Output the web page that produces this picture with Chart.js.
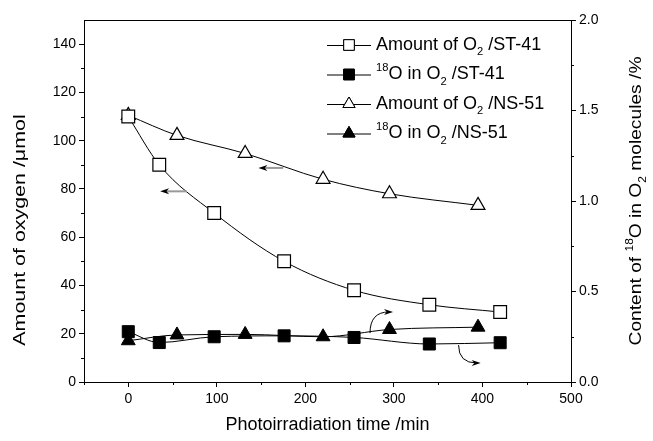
<!DOCTYPE html>
<html>
<head>
<meta charset="utf-8">
<script src="https://cdn.jsdelivr.net/npm/chart.js@4.4.1/dist/chart.umd.min.js"></script>
<style>
    html, body { margin: 0; padding: 0; background: #fff; }
</style>
</head>
<body>
<canvas id="chartContainer" width="653" height="441"></canvas>
<script>
// Data
const timeST41 = [0, 35, 97, 176, 255, 340, 420];
const amountST41 = [110, 90, 70, 50, 38, 32, 29];
const o18ST41 = [0.278, 0.218, 0.25, 0.255, 0.246, 0.21, 0.217];

const timeNS51 = [0, 55, 132, 220, 295, 395];
const amountNS51 = [110.5, 102.2, 94.7, 84, 78, 73.2];
const o18NS51 = [0.228, 0.26, 0.263, 0.25, 0.29, 0.303];

// Axis ticks
const xTicks = [0, 100, 200, 300, 400, 500];
const xMinorTicks = [-50, 50, 150, 250, 350, 450];
const yLeftTicks = [0, 20, 40, 60, 80, 100, 120, 140];
const yLeftMinorTicks = [10, 30, 50, 70, 90, 110, 130];
const yRightTicks = [0, 0.5, 1.0, 1.5, 2.0];
const yRightMinorTicks = [0.25, 0.75, 1.25, 1.75];

// Text (rich parts: [text, 'sub' | 'sup' | ''])
const xTitle = [['Photoirradiation time /min', '']];
const yLeftTitle = [['Amount of oxygen /\u03bcmol', '']];
const yRightTitle = [['Content of ', ''], ['18', 'sup'], ['O in O', ''], ['2', 'sub'], [' molecules /%', '']];
const legendLabels = [
    [['Amount of O', ''], ['2', 'sub'], [' /ST-41', '']],
    [['18', 'sup'], ['O in O', ''], ['2', 'sub'], [' /ST-41', '']],
    [['Amount of O', ''], ['2', 'sub'], [' /NS-51', '']],
    [['18', 'sup'], ['O in O', ''], ['2', 'sub'], [' /NS-51', '']]
];

// Annotation arrows, in data units: [x tail, x head, y] on the left axis
const straightArrows = [[66, 36, 79], [175, 147, 88.7]];
// curved arrows on right axis: [x start, y start, x end, y end]
const curvedArrows = [[273, 0.27, 299, 0.387], [373, 0.204, 398, 0.105]];

const FONT = "'Liberation Sans', Arial, sans-serif";

function pts(xs, ys) {
    return xs.map((x, i) => ({ x: x, y: ys[i] }));
}

function drawRich(ctx, parts, x, y, size) {
    let cx = x;
    parts.forEach(([txt, kind]) => {
        let s = size, dy = 0;
        if (kind === 'sub') { s = size * 0.62; dy = size * 0.4; }
        if (kind === 'sup') { s = size * 0.62; dy = -size * 0.36; }
        ctx.font = s + 'px ' + FONT;
        ctx.fillText(txt, cx, y + dy);
        cx += ctx.measureText(txt).width;
    });
    return cx - x;
}

function richWidth(ctx, parts, size) {
    let w = 0;
    parts.forEach(([txt, kind]) => {
        const s = kind ? size * 0.62 : size;
        ctx.font = s + 'px ' + FONT;
        w += ctx.measureText(txt).width;
    });
    return w;
}

// centred text, optionally rotated and stretched along its direction
function drawTitle(ctx, parts, cx, cy, size, angle, stretch) {
    ctx.save();
    ctx.fillStyle = '#000';
    ctx.textBaseline = 'middle';
    ctx.textAlign = 'left';
    const w = richWidth(ctx, parts, size);
    ctx.translate(cx, cy);
    ctx.rotate(angle);
    ctx.scale(stretch, 1);
    drawRich(ctx, parts, -w / 2, 0, size);
    ctx.restore();
}

function arrowHead(ctx, x, y, angle, len, half) {
    ctx.save();
    ctx.translate(x, y);
    ctx.rotate(angle);
    ctx.beginPath();
    ctx.moveTo(0, 0);
    ctx.lineTo(-len, -half);
    ctx.lineTo(-len * 0.7, 0);
    ctx.lineTo(-len, half);
    ctx.closePath();
    ctx.fillStyle = '#000';
    ctx.fill();
    ctx.restore();
}

const extrasPlugin = {
    id: 'extras',
    afterDraw(chart) {
        const ctx = chart.ctx;
        const area = chart.chartArea;
        const sx = chart.scales.x, sy = chart.scales.y, sy1 = chart.scales.y1;
        ctx.save();
        ctx.strokeStyle = '#000';
        ctx.lineWidth = 1;

        // top frame line
        ctx.beginPath();
        ctx.moveTo(area.left, area.top + 0.5);
        ctx.lineTo(area.right, area.top + 0.5);
        ctx.stroke();

        // minor ticks
        ctx.beginPath();
        xMinorTicks.forEach(v => {
            const px = Math.round(sx.getPixelForValue(v)) + 0.5;
            ctx.moveTo(px, area.bottom);
            ctx.lineTo(px, area.bottom + 3);
        });
        yLeftMinorTicks.forEach(v => {
            const py = Math.round(sy.getPixelForValue(v)) + 0.5;
            ctx.moveTo(area.left, py);
            ctx.lineTo(area.left - 3, py);
        });
        yRightMinorTicks.forEach(v => {
            const py = Math.round(sy1.getPixelForValue(v)) + 0.5;
            ctx.moveTo(area.right, py);
            ctx.lineTo(area.right + 3, py);
        });
        ctx.stroke();

        // straight arrows (pointing to left axis)
        straightArrows.forEach(([x0, x1, yv]) => {
            const py = sy.getPixelForValue(yv);
            const p0 = sx.getPixelForValue(x0), p1 = sx.getPixelForValue(x1);
            ctx.beginPath();
            ctx.strokeStyle = '#999';
            ctx.lineWidth = 2;
            ctx.moveTo(p0, py);
            ctx.lineTo(p1 + 5, py);
            ctx.stroke();
            arrowHead(ctx, p1, py, Math.PI, 9, 3);
        });

        // curved arrows (pointing to right axis)
        ctx.strokeStyle = '#000';
        ctx.lineWidth = 1;
        curvedArrows.forEach(([x0, y0, x1, y1]) => {
            const a = sx.getPixelForValue(x0), b = sy1.getPixelForValue(y0);
            const c = sx.getPixelForValue(x1), d = sy1.getPixelForValue(y1);
            ctx.beginPath();
            ctx.moveTo(a, b);
            ctx.quadraticCurveTo(a, d, c - 4, d);
            ctx.stroke();
            arrowHead(ctx, c, d, 0, 9, 3);
        });

        // legend
        const rows = [45, 74.5, 104, 133.5];
        const styles = chart.data.datasets;
        rows.forEach((ry, i) => {
            const ds = styles[i];
            ctx.strokeStyle = '#000';
            ctx.lineWidth = 1;
            ctx.beginPath();
            ctx.moveTo(327, ry + 0.5);
            ctx.lineTo(371, ry + 0.5);
            ctx.stroke();
            Chart.helpers.drawPoint(ctx, {
                pointStyle: ds.pointStyle,
                radius: ds.pointStyle === 'triangle' ? 7 : 7.5,
                borderWidth: 1
            }, 349, ry);
            ctx.fillStyle = ds.pointBackgroundColor;
            ctx.strokeStyle = '#000';
            ctx.fill();
            ctx.stroke();
            ctx.fillStyle = '#000';
            ctx.textBaseline = 'middle';
            ctx.textAlign = 'left';
            drawRich(ctx, legendLabels[i], 376, ry, 18);
        });
        ctx.restore();

        // axis titles
        const midY = (area.top + area.bottom) / 2;
        drawTitle(ctx, xTitle, (area.left + area.right) / 2, 425, 18, 0, 1);
        drawTitle(ctx, yLeftTitle, 20, midY + 29, 17, -Math.PI / 2, 1.26);
        drawTitle(ctx, yRightTitle, 636, midY, 17, -Math.PI / 2, 1.13);
    }
};

let chart;

document.addEventListener('DOMContentLoaded', function () {
    const ctx = document.getElementById('chartContainer').getContext('2d');

    const axisBase = {
        grid: { drawOnChartArea: false, drawTicks: true, tickLength: 5, color: '#000', tickColor: '#000' },
        border: { display: true, color: '#000', width: 1 },
        ticks: { color: '#000', font: { family: FONT, size: 14 }, padding: 3 }
    };

    chart = new Chart(ctx, {
        type: 'line',
        data: {
            datasets: [{
                label: 'Amount of O2 /ST-41',
                data: pts(timeST41, amountST41),
                yAxisID: 'y',
                pointStyle: 'rect',
                pointRadius: 9,
                pointBackgroundColor: '#fff',
                pointBorderColor: '#000',
                pointBorderWidth: 1.2
            }, {
                label: '18O in O2 /ST-41',
                data: pts(timeST41, o18ST41),
                yAxisID: 'y1',
                pointStyle: 'rect',
                pointRadius: 8.5,
                pointBackgroundColor: '#000',
                pointBorderColor: '#000',
                pointBorderWidth: 1
            }, {
                label: 'Amount of O2 /NS-51',
                data: pts(timeNS51, amountNS51),
                yAxisID: 'y',
                pointStyle: 'triangle',
                pointRadius: 8,
                pointBackgroundColor: '#fff',
                pointBorderColor: '#000',
                pointBorderWidth: 1.2
            }, {
                label: '18O in O2 /NS-51',
                data: pts(timeNS51, o18NS51),
                yAxisID: 'y1',
                pointStyle: 'triangle',
                pointRadius: 8,
                pointBackgroundColor: '#000',
                pointBorderColor: '#000',
                pointBorderWidth: 1
            }]
        },
        options: {
            responsive: false,
            animation: false,
            devicePixelRatio: 1,
            layout: { padding: { top: 20, left: 0, right: 0, bottom: 0 } },
            elements: {
                line: { borderColor: '#000', borderWidth: 1, cubicInterpolationMode: 'monotone', fill: false }
            },
            scales: {
                x: {
                    ...axisBase,
                    type: 'linear',
                    position: 'bottom',
                    min: -50,
                    max: 500,
                    afterBuildTicks: s => { s.ticks = xTicks.map(v => ({ value: v })); },
                    ticks: { ...axisBase.ticks, padding: 4, maxRotation: 0, callback: v => v },
                    afterFit: s => { s.height = 59; }
                },
                y: {
                    ...axisBase,
                    type: 'linear',
                    position: 'left',
                    min: 0,
                    max: 150,
                    afterBuildTicks: s => { s.ticks = yLeftTicks.map(v => ({ value: v })); },
                    ticks: { ...axisBase.ticks, callback: v => v },
                    afterFit: s => { s.width = 84; }
                },
                y1: {
                    ...axisBase,
                    type: 'linear',
                    position: 'right',
                    min: 0,
                    max: 2,
                    afterBuildTicks: s => { s.ticks = yRightTicks.map(v => ({ value: v })); },
                    ticks: { ...axisBase.ticks, callback: v => v.toFixed(1) },
                    afterFit: s => { s.width = 82; }
                }
            },
            plugins: {
                legend: { display: false },
                tooltip: { enabled: false }
            }
        },
        plugins: [extrasPlugin]
    });
});
</script>
</body>
</html>
